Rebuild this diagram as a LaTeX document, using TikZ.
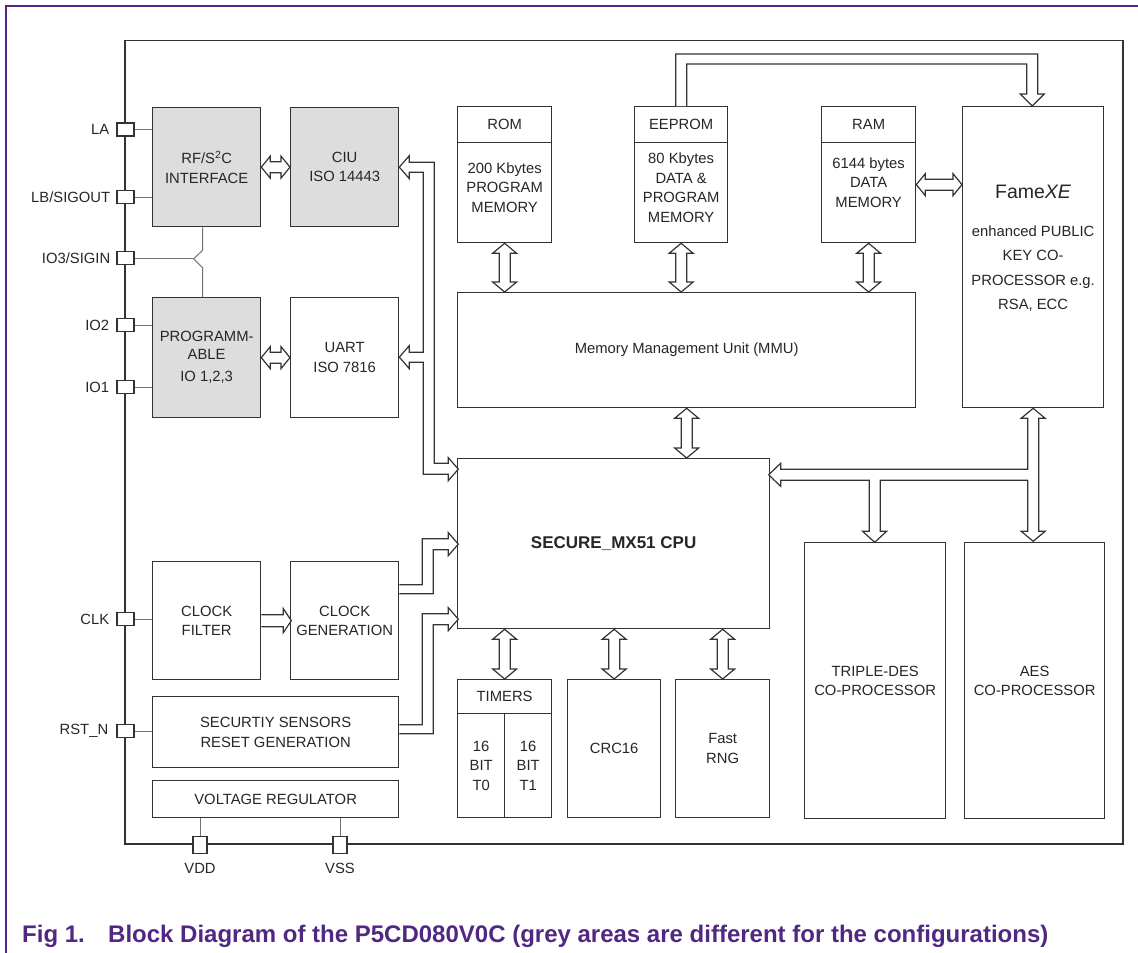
\documentclass[tikz,border=0pt]{standalone}
\usepackage{fontspec}
\setmainfont{Liberation Sans}
\usetikzlibrary{calc,positioning}

\definecolor{nxppurple}{RGB}{80,40,130}
\definecolor{blkgrey}{RGB}{221,221,221}

% hollow bus arrows, vertical (top to bottom) and horizontal (left to right)
\newcommand{\busv}[2]{\draw[bus] (#1) -- ++(12,10) -- ++(-6.5,0) -- ($(#2)+(5.5,-10)$) -- ++(6.5,0) -- (#2) -- ++(-12,-10) -- ++(6.5,0) -- ($(#1)+(-5.5,10)$) -- ++(-6.5,0) -- cycle;}
\newcommand{\bush}[2]{\draw[bus] (#1) -- ++(9,-11) -- ++(0,5.5) -- ($(#2)+(-9,-5.5)$) -- ++(0,-5.5) -- (#2) -- ++(-9,11) -- ++(0,-5.5) -- ($(#1)+(9,5.5)$) -- ++(0,5.5) -- cycle;}

\begin{document}
\begin{tikzpicture}[x=1pt, y=-1pt,
    every node/.style={font=\fontsize{14.8}{19.5}\selectfont, inner sep=0pt, align=center, text=black!85},
    wh/.style 2 args={minimum width=#1, minimum height=#2},
    blk/.style={draw=black!80, line width=1.3pt, fill=white, anchor=north west},
    grey/.style={blk, fill=blkgrey},
    chip/.style={draw=black!80, line width=1.4pt},
    bus/.style={draw=black!80, line width=1.2pt, fill=white},
    wire/.style={draw=black!55, line width=1pt},
    pin/.style={draw=black!80, line width=1.2pt, fill=white, wh={17pt}{13pt}},
    vpin/.style={pin, wh={14pt}{17pt}},
    pinlbl/.style={text=black!85},
    caption/.style={font=\fontsize{24}{28}\selectfont\bfseries, text=nxppurple, anchor=base west},
]
\useasboundingbox (0,0) rectangle (1138,953);

% page frame
\draw[nxppurple, line width=2pt] (6,953) -- (6,5.5) -- (1138,5.5);

% chip outline
\draw[chip] (125,40.7) rectangle (1123,844);

% interface blocks
\node[grey, wh={108pt}{119pt}] (rf) at (152,107) {RF/S\textsuperscript{2}C\\INTERFACE};
\node[grey, wh={108pt}{119pt}] (ciu) at (290,107) {CIU\\ISO 14443};
\node[grey, wh={108pt}{120pt}] (prog) at (152,297) {PROGRAMM-\\[-2pt]ABLE\\[3pt]IO 1,2,3};
\node[blk, wh={108pt}{120pt}] (uart) at (290,297) {UART\\ISO 7816};
\node[blk, wh={108pt}{118pt}] (clkf) at (152,561) {CLOCK\\FILTER};
\node[blk, wh={108pt}{118pt}] (clkg) at (290,561) {CLOCK\\GENERATION};
\node[blk, wh={246pt}{71pt}] (sens) at (152,696) {SECURTIY SENSORS\\RESET GENERATION};
\node[blk, wh={246pt}{37pt}] (vreg) at (152,780) {VOLTAGE REGULATOR};

% memories
\node[blk, wh={94pt}{36pt}] (rom) at (457,106) {ROM};
\node[blk, wh={94pt}{100pt}] (romb) at (457,142) {};
\node at ([yshift=5pt]romb.center) {200 Kbytes\\PROGRAM\\MEMORY};
\node[blk, wh={93pt}{36pt}] (eeprom) at (634,106) {EEPROM};
\node[blk, wh={93pt}{100pt}] (eepromb) at (634,142) {};
\node at ([yshift=5pt]eepromb.center) {80 Kbytes\\DATA \&\\PROGRAM\\MEMORY};
\node[blk, wh={94pt}{36pt}] (ram) at (821,106) {RAM};
\node[blk, wh={94pt}{100pt}] (ramb) at (821,142) {};
\node at ([yshift=10pt]ramb.center) {6144 bytes\\DATA\\MEMORY};
\node[blk, wh={458pt}{115pt}] (mmu) at (457,292) {Memory Management Unit (MMU)};

% public key co-processor
\node[blk, wh={141pt}{301pt}] (fame) at (962,106) {};
\node[anchor=north, font=\fontsize{14.8}{24.5}\selectfont] at ([yshift=-79pt]fame.north)
  {{\fontsize{19.5}{22}\selectfont Fame\textit{XE}}\\[13pt]enhanced PUBLIC\\KEY CO-\\PROCESSOR e.g.\\RSA, ECC};

% cpu and peripherals
\node[blk, wh={312pt}{170pt}, font=\fontsize{17}{20}\selectfont\bfseries] (cpu) at (457,458) {SECURE\_MX51 CPU};
\node[blk, wh={94pt}{34pt}] (timers) at (457,679) {TIMERS};
\node[blk, wh={47pt}{104pt}] (t0) at (457,713) {16\\BIT\\T0};
\node[blk, wh={47pt}{104pt}] (t1) at (504,713) {16\\BIT\\T1};
\node[blk, wh={93pt}{138pt}] (crc) at (567,679) {CRC16};
\node[blk, wh={94pt}{138pt}] (rng) at (675,679) {Fast\\RNG};
\node[blk, wh={141pt}{276pt}] (tdes) at (804,542) {TRIPLE-DES\\CO-PROCESSOR};
\node[blk, wh={140pt}{276pt}] (aes) at (964,542) {AES\\CO-PROCESSOR};

% pins
\node[pin] (pLA) at (125.5,129.5) {};
\node[pinlbl, left=7pt of pLA] {LA};
\node[pin] (pLB) at (125.5,197) {};
\node[pinlbl, left=6pt of pLB] {LB/SIGOUT};
\node[pin] (pIO3) at (125.5,258) {};
\node[pinlbl, left=6pt of pIO3] {IO3/SIGIN};
\node[pin] (pIO2) at (125.5,325) {};
\node[pinlbl, left=7pt of pIO2] {IO2};
\node[pin] (pIO1) at (125.5,387) {};
\node[pinlbl, left=7pt of pIO1] {IO1};
\node[pin] (pCLK) at (125.5,619) {};
\node[pinlbl, left=7pt of pCLK] {CLK};
\node[pin] (pRST) at (125.5,731) {};
\node[pinlbl, left=8pt of pRST] {RST\_N};
\node[vpin] (pVDD) at (200,845) {};
\node[pinlbl, below=9pt of pVDD] {VDD};
\node[vpin] (pVSS) at (340,845) {};
\node[pinlbl, below=9pt of pVSS] {VSS};

% pin wires
\draw[wire] (pLA.east) -- (pLA.east -| rf.west);
\draw[wire] (pLB.east) -- (pLB.east -| rf.west);
\draw[wire] (pIO2.east) -- (pIO2.east -| prog.west);
\draw[wire] (pIO1.east) -- (pIO1.east -| prog.west);
\draw[wire] (pCLK.east) -- (pCLK.east -| clkf.west);
\draw[wire] (pRST.east) -- (pRST.east -| sens.west);
\draw[wire] (pIO3.east) -- ($(pIO3.east -| rf.south)+(-13,0)$);
\draw[wire] ([xshift=-4pt]rf.south) -- ++(0,23) -- ++(-9,8.5) -- ++(9,9) -- ([xshift=-4pt]prog.north);
\draw[wire] (vreg.south -| pVDD) -- (pVDD.north);
\draw[wire] (vreg.south -| pVSS) -- (pVSS.north);

% buses
\bush{rf.east}{ciu.west}
\bush{prog.east}{uart.west}
\coordinate (ramR) at ([yshift=8pt]ramb.east);
\coordinate (fameL) at (ramR -| fame.west);
\bush{ramR}{fameL}
\busv{romb.south}{romb.south |- mmu.north}
\busv{eepromb.south}{eepromb.south |- mmu.north}
\busv{ramb.south}{ramb.south |- mmu.north}
\busv{mmu.south}{mmu.south |- cpu.north}
\busv{cpu.south -| timers.north}{timers.north}
\busv{cpu.south -| crc.north}{crc.north}
\busv{cpu.south -| rng.north}{rng.north}

% CIU / UART to cpu
\draw[bus] (ciu.east) -- ++(10,-11.5) -- ++(0,6.5) -- ++(25,0) -- ++(0,301) -- ++(14,0) -- ++(0,-5.5)
  -- ++(10,11.5) -- ++(-10,11.5) -- ++(0,-6.5) -- ++(-25,0) -- ++(0,-112) -- ++(-14,0) -- ++(0,6.5)
  -- ++(-10,-11.5) -- ++(10,-11.5) -- ++(0,6.5) -- ++(14,0) -- ++(0,-180) -- ++(-14,0) -- ++(0,6.5) -- cycle;

% clock and reset to cpu
\draw[bus] (clkf.east) ++(0,-6) -- ++(22,0) -- ++(0,-6) -- ++(8,12) -- ++(-8,12) -- ++(0,-6) -- ++(-22,0);
\draw[bus] ($(clkg.east)+(0,-36)$) -- ++(23,0) -- ++(0,-46) -- ++(26,0) -- ++(0,-6) -- ++(10,11.5)
  -- ++(-10,11.5) -- ++(0,-6) -- ++(-15,0) -- ++(0,44) -- ++(-34,0);
\draw[bus] ($(sens.east)+(0,-7.5)$) -- ++(23,0) -- ++(0,-111) -- ++(26,0) -- ++(0,-6) -- ++(10,11.5)
  -- ++(-10,11.5) -- ++(0,-6) -- ++(-15,0) -- ++(0,109) -- ++(-34,0);

% EEPROM to FameXE
\draw[bus] ($(eeprom.north)+(-5.5,0)$) -- ++(0,-52) -- ++(362,0) -- ++(0,40) -- ++(6.5,0) -- ++(-12,12)
  -- ++(-12,-12) -- ++(6.5,0) -- ++(0,-30) -- ++(-340,0) -- ++(0,42);

% FameXE, TRIPLE-DES and AES to cpu
\draw[bus] (fame.south) -- ++(12,10) -- ++(-6.5,0) -- ++(0,113) -- ++(6.5,0) -- ++(-12,10) -- ++(-12,-10)
  -- ++(6.5,0) -- ++(0,-51) -- ++(-147.5,0) -- ++(0,51) -- ++(6.5,0) -- ++(-12,11) -- ++(-12,-11)
  -- ++(6.5,0) -- ++(0,-51) -- ++(-88.5,0) -- ++(0,6) -- ++(-12,-11.5) -- ++(12,-11.5) -- ++(0,6)
  -- ++(247,0) -- ++(0,-51) -- ++(-6.5,0) -- cycle;

% caption
\node[caption] (fig) at (22,942) {Fig 1.};
\node[caption] (cap) at (108,942) {Block Diagram of the P5CD080V0C (grey areas are different for the configurations)};
\end{tikzpicture}
\end{document}
